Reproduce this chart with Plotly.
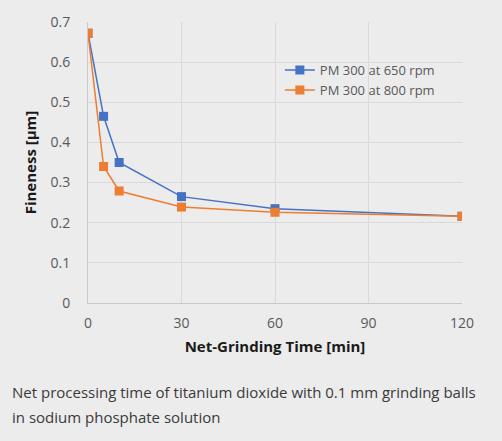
import plotly.graph_objects as go

time_min = [0, 5, 10, 30, 60, 120]
fineness_650 = [0.672, 0.465, 0.35, 0.265, 0.235, 0.216]
fineness_800 = [0.672, 0.34, 0.279, 0.239, 0.226, 0.216]
series_names = ["PM 300 at 650 rpm", "PM 300 at 800 rpm"]
x_ticks = [0, 30, 60, 90, 120]
y_ticks = [0, 0.1, 0.2, 0.3, 0.4, 0.5, 0.6, 0.7]
y_ticklabels = ["0", "0.1", "0.2", "0.3", "0.4", "0.5", "0.6", "0.7"]
caption_lines = ["Net processing time of titanium dioxide with 0.1 mm grinding balls",
                 "in sodium phosphate solution"]

FONT = "Open Sans"
BG = "#ececec"

fig = go.Figure()
fig.add_trace(go.Scatter(x=time_min, y=fineness_650, name=series_names[0], mode="lines+markers",
                         line=dict(color="#4472C4", width=1.5),
                         marker=dict(symbol="square", size=9, color="#4472C4")))
fig.add_trace(go.Scatter(x=time_min, y=fineness_800, name=series_names[1], mode="lines+markers",
                         line=dict(color="#ED7D31", width=1.5),
                         marker=dict(symbol="square", size=9, color="#ED7D31")))

fig.update_layout(
    width=502, height=441,
    paper_bgcolor=BG, plot_bgcolor=BG,
    margin=dict(l=88, r=40, t=19, b=138),
    font=dict(family=FONT, size=14, color="#595959"),
    showlegend=True,
    legend=dict(x=0.513, y=0.882, xanchor="left", yanchor="top", bgcolor="rgba(0,0,0,0)",
                font=dict(size=13, color="#595959"), itemwidth=30, tracegroupgap=0),
    xaxis=dict(range=[0, 120], tickvals=x_ticks, showgrid=True, gridcolor="#d9d9d9",
               showline=True, linecolor="#c8c8c8", zeroline=False,
               ticks="outside", ticklen=7, tickcolor="rgba(0,0,0,0)",
               title=dict(text="<b>Net-Grinding Time [min]</b>", font=dict(size=15, color="#1a1a1a"), standoff=10)),
    yaxis=dict(range=[0, 0.7], tickvals=y_ticks, ticktext=y_ticklabels, showgrid=True, gridcolor="#d9d9d9",
               showline=True, linecolor="#c8c8c8", zeroline=False,
               ticks="outside", ticklen=14, tickcolor="rgba(0,0,0,0)",
               title=dict(text="<b>Fineness [µm]</b>", font=dict(size=15, color="#1a1a1a"), standoff=10)),
)

for i, line in enumerate(caption_lines):
    fig.add_annotation(text=line, xref="paper", yref="paper", x=-88/422, y=(303 - 393 - 25 * i) / 284,
                       xanchor="left", yanchor="middle", showarrow=False, align="left",
                       font=dict(family=FONT, size=15, color="#3a3a3a"))

fig.write_html("out.html")
